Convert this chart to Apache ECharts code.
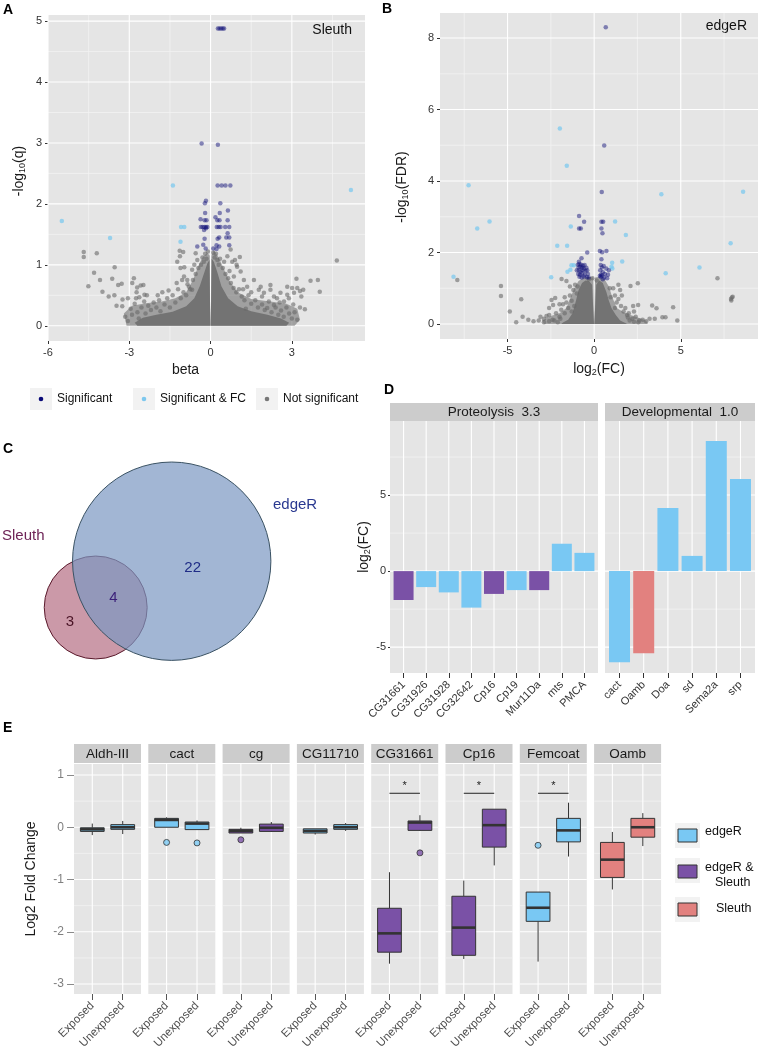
<!DOCTYPE html>
<html>
<head>
<meta charset="utf-8">
<script src="https://cdn.jsdelivr.net/npm/echarts@6.0.0/dist/echarts.min.js"></script>
<style>
html,body{margin:0;padding:0;background:#fff}
#main{width:759px;height:1053px}
</style>
</head>
<body>
<div id="main"></div>
<script>
var FONT = '"Liberation Sans", Arial, sans-serif';

// ---- panel A (Sleuth volcano) ----
var aTicksX = [-6, -3, 0, 3];
var aMinorX = [-4.5, -1.5, 1.5, 4.5];
var aTicksY = [0, 1, 2, 3, 4, 5];
var aMinorY = [0.5, 1.5, 2.5, 3.5, 4.5];
var aSig = [[0.27,4.88],[0.33,4.88],[0.39,4.88],[0.45,4.88],[0.5,4.88],[-0.33,2.99],[0.27,2.97],
  [0.26,2.3],[0.41,2.3],[0.55,2.3],[0.73,2.3],[-0.17,2.05],[-0.21,2.01],[0.36,2.01],
  [-0.2,1.85],[0.64,1.89],[0.34,1.85],[-0.37,1.75],[-0.22,1.73],[-0.15,1.73],[0.18,1.78],[0.25,1.73],[0.33,1.73],[0.63,1.73],
  [-0.36,1.62],[-0.3,1.62],[-0.23,1.62],[-0.17,1.62],[-0.12,1.62],[0.23,1.62],[0.3,1.62],[0.37,1.62],[0.54,1.62],[0.69,1.62],
  [-0.17,1.6],[-0.24,1.57],[0.63,1.52],[-0.22,1.43],[0.26,1.43],[0.32,1.45],[0.58,1.45],[0.69,1.45],
  [-0.49,1.3],[-0.27,1.33],[0.22,1.32],[0.32,1.3],[0.69,1.32],[-0.18,1.27],[0.1,1.27],[0.22,1.26]];
var aSigFC = [[-5.49,1.72],[-3.71,1.44],[-1.39,2.3],[-1.09,1.62],[-0.97,1.62],[-1.11,1.38],[5.18,2.23]];
var aNotSig = [[-4.68,1.21],[-4.68,1.13],[-4.2,1.19],[-3.54,0.96],[-4.3,0.87],[-4.51,0.65],[-4.08,0.75],[-3.63,0.77],
  [-3.99,0.56],[-3.76,0.48],[-3.55,0.5],[-3.41,0.67],[-3.28,0.69],[-3.47,0.33],[-3.26,0.32],[-3.25,0.43],[-3.05,0.45],
  [-2.89,0.7],[-2.83,0.78],[-2.73,0.55],[-2.71,0.63],[-2.63,0.47],[-2.58,0.66],[-2.48,0.67],[-2.44,0.51],[-1.78,0.55],
  [-1.23,1.05],[-1.14,1.23],[-1.01,1.21],[-0.97,0.96],[-1.13,1.14],[-1.11,0.95],[-0.98,0.81],[-0.86,0.75],[-0.68,0.92],
  [-0.8,0.64],[-0.68,0.59],[-0.55,1.19],[-0.49,1.08],[0.74,1.25],[1.08,1.13],[0.96,1.0],[1.11,0.89],[0.9,1.08],[0.62,1.14],
  [0.8,1.05],[0.98,0.97],[0.86,0.81],[1.23,0.75],[1.35,0.64],[1.6,0.75],[1.78,0.59],[1.97,0.54],[1.85,0.64],[2.21,0.67],
  [2.21,0.59],[2.34,0.48],[2.58,0.54],[2.71,0.4],[2.89,0.45],[3.08,0.54],[2.34,0.34],[2.09,0.29],[3.17,0.77],[3.69,0.74],
  [3.96,0.75],[4.03,0.56],[4.66,1.07],[2.83,0.64],[3.35,0.48],[3.42,0.59],[3.48,0.27],[2.83,0.51],[3.01,0.62],[3.2,0.62],[3.3,0.57],
  [-2.95,0.28],[-2.9,0.18],[-2.8,0.36],[-2.7,0.22],[-2.65,0.12],[-2.55,0.3],[-2.45,0.4],[-2.4,0.2],[-2.3,0.33],[-2.2,0.26],
  [-2.1,0.38],[-2.0,0.3],[-1.9,0.42],[-1.85,0.24],[-1.7,0.35],[-1.6,0.45],[-1.5,0.3],[-1.4,0.5],[-1.3,0.38],[-1.2,0.6],
  [-1.1,0.45],[-1.0,0.55],[-0.9,0.5],[-0.85,0.68],[-0.75,0.6],[-0.65,0.75],[-0.55,0.85],[-0.45,0.95],[-0.35,1.0],[-0.3,1.12],
  [-0.25,1.05],[-0.2,1.18],[-0.15,1.1],[-0.1,1.22],[0.1,1.2],[0.15,1.12],[0.2,1.18],[0.25,1.08],[0.3,1.0],[0.35,1.1],
  [0.45,0.95],[0.55,0.85],[0.65,0.78],[0.75,0.7],[0.85,0.62],[0.95,0.55],[1.05,0.6],[1.15,0.48],[1.25,0.42],[1.4,0.5],
  [1.5,0.36],[1.65,0.42],[1.75,0.3],[1.9,0.35],[2.0,0.26],[2.15,0.4],[2.25,0.22],[2.4,0.3],[2.5,0.18],[2.6,0.25],
  [2.7,0.15],[2.8,0.3],[2.9,0.2],[3.0,0.12],[3.1,0.22],[2.55,0.38],[1.3,0.28],
  [-3.15,0.15],[-3.05,0.08],[-2.75,0.45],[-2.35,0.5],[-1.95,0.5],[-1.55,0.58],[-1.25,0.7],[-1.05,0.75],[-0.6,1.0],
  [0.5,1.05],[0.7,0.9],[1.2,0.6],[1.5,0.55],[1.9,0.48],[2.45,0.45],[3.2,0.1],[3.3,0.3],[3.05,0.35]];
// outline of the solid grey mass of points, and of the thinner halo around it
var aCloudLeft = [[-2.7,0],[-2.8,0.05],[-2.5,0.13],[-2.0,0.18],[-1.4,0.23],[-0.9,0.32],[-0.6,0.45],[-0.4,0.65],
  [-0.25,0.85],[-0.12,1.02],[-0.04,1.08],[-0.02,0.4],[-0.005,0]];
var aCloudRight = [[0.005,0],[0.02,0.4],[0.04,1.1],[0.12,1.05],[0.25,0.88],[0.4,0.65],[0.65,0.45],[1.0,0.32],
  [1.5,0.24],[2.1,0.18],[2.6,0.12],[2.9,0.05],[2.8,0]];
var aHaloLeft = [[-3.1,0],[-3.2,0.2],[-2.9,0.33],[-2.4,0.37],[-1.8,0.4],[-1.3,0.45],[-0.9,0.55],[-0.65,0.75],
  [-0.45,0.98],[-0.3,1.12],[-0.12,1.2],[-0.03,1.15],[-0.01,0]];
var aHaloRight = [[0.01,0],[0.03,1.15],[0.12,1.24],[0.3,1.12],[0.5,0.92],[0.72,0.72],[1.0,0.55],[1.5,0.44],
  [2.2,0.4],[2.8,0.36],[3.2,0.28],[3.3,0.1],[3.1,0]];

// ---- panel B (edgeR volcano) ----
var bTicksX = [-5, 0, 5];
var bMinorX = [-7.5, -2.5, 2.5, 7.5];
var bTicksY = [0, 2, 4, 6, 8];
var bMinorY = [1, 3, 5, 7];
var bSig = [[0.67,8.3],[0.58,4.99],[0.44,3.69],[-0.87,3.02],[-0.58,2.86],[-0.87,2.67],[-0.77,2.67],[0.42,2.86],[0.52,2.86],
  [0.42,2.67],[0.48,2.54],[-0.4,2.0],[0.33,2.04],[0.46,2.01],[0.71,2.04],[-0.73,1.84],[-0.88,1.74],
  [-0.94,1.66],[-0.85,1.68],[-0.75,1.66],[-0.65,1.63],[-0.55,1.65],[-0.9,1.58],[-0.8,1.6],[-0.7,1.57],[-0.6,1.55],[-0.45,1.57],
  [-1.0,1.5],[-0.88,1.5],[-0.78,1.47],[-0.66,1.5],[-0.5,1.48],[-0.4,1.5],[-0.92,1.4],[-0.82,1.38],[-0.7,1.42],[-0.55,1.38],
  [-0.36,1.4],[-0.85,1.32],[-0.72,1.3],[-0.6,1.33],[-0.42,1.31],[-0.32,1.3],
  [0.42,1.81],[0.38,1.65],[0.45,1.58],[0.55,1.62],[0.7,1.55],[0.85,1.5],[0.35,1.5],[0.5,1.45],[0.62,1.4],[0.8,1.38],
  [0.4,1.38],[0.33,1.35],[0.38,1.32],[0.45,1.35],[0.58,1.3],[0.75,1.28],[0.5,1.25]];
var bSigFC = [[-1.98,5.47],[-1.58,4.43],[-7.25,3.88],[3.88,3.63],[8.6,3.7],[-6.04,2.87],[-6.75,2.67],[-1.35,2.73],[1.21,2.87],
  [1.83,2.49],[-2.13,2.19],[-1.56,2.19],[7.88,2.26],[1.62,1.75],[1.04,1.71],[1.0,1.6],[-1.31,1.64],[-1.17,1.64],[-2.48,1.31],
  [-8.12,1.32],[6.08,1.58],[4.13,1.42],[-1.37,1.52],[-1.54,1.46],[1.05,1.55]];
var bNotSig = [[-7.9,1.23],[7.12,1.28],[7.9,0.7],[7.95,0.74],[8.0,0.76],[7.92,0.66],[-5.38,1.06],[-5.38,0.78],[-4.21,0.69],
  [-4.87,0.35],[-4.13,0.2],[-3.1,0.2],[-2.75,0.22],[-2.25,0.73],[-2.37,0.53],[-2.46,0.67],[-1.88,1.26],[2.1,1.06],[2.52,1.14],
  [2.25,0.5],[2.54,0.53],[3.35,0.52],[3.6,0.44],[4.56,0.47],[3.94,0.19],[4.12,0.19],[-1.6,1.2],[-1.4,1.05],[1.4,1.1],[1.5,0.95],
  [-3.2,0.1],[-2.9,0.15],[-2.6,0.25],[-2.4,0.12],[-2.2,0.3],[-2.0,0.2],[-1.9,0.4],[-1.8,0.55],[-1.7,0.3],[-1.6,0.6],
  [-1.5,0.45],[-1.4,0.8],[-1.3,0.65],[-1.2,0.95],[-1.15,0.5],[-1.1,1.1],[1.1,1.0],[1.2,0.8],[1.3,0.6],[1.4,0.7],[1.55,0.5],
  [1.7,0.35],[1.8,0.45],[1.9,0.25],[2.0,0.3],[2.2,0.15],[2.4,0.2],[2.6,0.1],[2.8,0.12],[3.0,0.08],[-3.5,0.08],[3.2,0.15],
  [-0.3,1.25],[-0.1,1.28],[0.15,1.22],
  [-2.9,0.05],[-2.6,0.08],[-2.3,0.1],[-2.1,0.05],[-1.95,0.15],[2.05,0.1],[2.3,0.06],[2.55,0.05],[1.95,0.18],[-1.3,0.35],
  [-1.0,0.85],[1.2,0.45],[0.95,0.75],[-0.95,1.05],[0.9,1.0],[-1.7,0.75],[1.6,0.8],[-2.0,0.55],[2.3,0.35],[-2.6,0.45],
  [3.5,0.15],[-3.8,0.12],[4.8,0.1],[-4.5,0.05]];
var bCloudLeft = [[-1.9,0],[-1.8,0.04],[-1.5,0.12],[-1.25,0.3],[-1.05,0.65],[-0.9,0.95],[-0.7,1.15],[-0.5,1.22],
  [-0.3,1.2],[-0.12,1.1],[-0.02,0.1],[-0.01,0]];
var bCloudRight = [[0.01,0],[0.02,0.1],[0.12,1.1],[0.3,1.22],[0.5,1.15],[0.7,0.9],[0.85,0.65],[1.0,0.45],[1.25,0.25],
  [1.5,0.1],[1.8,0.03],[1.9,0]];
var bHaloLeft = [[-2.9,0],[-3.0,0.1],[-2.5,0.22],[-2.0,0.3],[-1.6,0.45],[-1.35,0.75],[-1.15,1.0],[-0.9,1.2],[-0.6,1.3],
  [-0.3,1.32],[-0.05,1.3],[-0.01,0]];
var bHaloRight = [[0.01,0],[0.05,1.3],[0.3,1.32],[0.6,1.25],[0.85,1.05],[1.05,0.75],[1.3,0.45],[1.8,0.3],[2.4,0.2],
  [3.0,0.1],[3.1,0]];

// ---- panel C (Venn) ----
var vennNames = ['Sleuth', 'edgeR'];
var vennTotals = [7, 26];
var vennCounts = [3, 4, 22];   // Sleuth only, both, edgeR only

// ---- panel D (GO bars) ----
var dProtGenes = ['CG31661','CG31926','CG31928','CG32642','Cp16','Cp19','Mur11Da','mts','PMCA'];
var dProtFC = [-1.9, -1.05, -1.4, -2.4, -1.5, -1.25, -1.25, 1.8, 1.2];
var dProtGroup = ['both','edgeR','edgeR','edgeR','both','edgeR','both','edgeR','edgeR'];
var dDevGenes = ['cact','Oamb','Doa','sd','Sema2a','srp'];
var dDevFC = [-6.0, -5.4, 4.15, 1.0, 8.55, 6.05];
var dDevGroup = ['edgeR','Sleuth','edgeR','edgeR','edgeR','edgeR'];
var dTicksY = [-5, 0, 5];
var dMinorY = [-2.5, 2.5, 7.5];

// ---- panel E (box plots) ----
var eGenes = ['Aldh-III','cact','cg','CG11710','CG31661','Cp16','Femcoat','Oamb'];
var eGroup = ['edgeR','edgeR','both','edgeR','both','both','edgeR','Sleuth'];
var eConds = ['Exposed', 'Unexposed'];
// [min, q1, median, q3, max]
var eExposed = [[-0.15,-0.08,-0.04,-0.01,0.07],[0.0,0.0,0.14,0.17,0.19],[-0.11,-0.11,-0.07,-0.04,-0.01],[-0.14,-0.11,-0.07,-0.03,-0.03],
  [-2.61,-2.39,-2.03,-1.55,-0.86],[-2.52,-2.45,-1.92,-1.32,-1.02],[-2.57,-1.8,-1.54,-1.24,-1.24],[-1.19,-0.96,-0.62,-0.29,-0.09]];
var eUnexposed = [[-0.13,-0.04,0.0,0.05,0.12],[-0.045,-0.045,0.07,0.1,0.13],[-0.09,-0.08,-0.01,0.06,0.1],[-0.07,-0.04,0.0,0.05,0.08],
  [-0.07,-0.06,0.09,0.12,0.23],[-0.73,-0.38,0.04,0.345,0.345],[-0.56,-0.28,-0.06,0.17,0.47],[-0.36,-0.19,0.0,0.17,0.27]];
// [gene index, condition (1 or 2), value]
var eOutliers = [[1,1,-0.29],[1,2,-0.3],[2,1,-0.24],[4,2,-0.49],[6,1,-0.345]];
var eSigGenes = [4, 5, 6];
var eSigY = 0.65;
var eTicksY = [-3, -2, -1, 0, 1];
var eMinorY = [-2.5, -1.5, -0.5, 0.5];

var groupColor = {edgeR: '#79c8f3', both: '#7a51a6', Sleuth: '#e2817f'};

// ---------------------------------------------------------------
function gridLines(idx, xMaj, xMin, yMaj, yMin, xr, yr) {
    return {
        type: 'custom', xAxisIndex: idx, yAxisIndex: idx, silent: true, z: 1,
        data: [[xr[0], yr[0]]],
        renderItem: function (params, api) {
            var ch = [];
            function vl(v, col, w) {
                var a = api.coord([v, yr[0]]), b = api.coord([v, yr[1]]);
                ch.push({type: 'line', shape: {x1: a[0], y1: a[1], x2: b[0], y2: b[1]}, style: {stroke: col, lineWidth: w}});
            }
            function hl(v, col, w) {
                var a = api.coord([xr[0], v]), b = api.coord([xr[1], v]);
                ch.push({type: 'line', shape: {x1: a[0], y1: a[1], x2: b[0], y2: b[1]}, style: {stroke: col, lineWidth: w}});
            }
            xMin.forEach(function (v) { vl(v, '#f2f2f2', 0.8); });
            yMin.forEach(function (v) { hl(v, '#f2f2f2', 0.8); });
            xMaj.forEach(function (v) { vl(v, '#ffffff', 1.1); });
            yMaj.forEach(function (v) { hl(v, '#ffffff', 1.1); });
            return {type: 'group', children: ch};
        }
    };
}

function cloud(idx, poly, color) {
    return {
        type: 'custom', xAxisIndex: idx, yAxisIndex: idx, silent: true, z: 2,
        data: [poly[0]],
        renderItem: function (params, api) {
            return {type: 'polygon', shape: {points: poly.map(function (p) { return api.coord(p); })},
                style: {fill: color}};
        }
    };
}

function pts(idx, data, color) {
    return {type: 'scatter', xAxisIndex: idx, yAxisIndex: idx, data: data, symbolSize: 4.5,
        itemStyle: {color: color}, silent: true, z: 3};
}

function valAxis(gi, min, max, ticks, o) {
    o = o || {};
    var a = {
        type: 'value', gridIndex: gi, min: min, max: max,
        axisLine: {show: false, onZero: false}, splitLine: {show: false},
        axisTick: {show: o.tickShow !== false, length: o.tickLen || 3, customValues: ticks,
            lineStyle: {color: o.tickColor || '#333'}},
        axisLabel: {show: o.labelShow !== false, customValues: ticks, color: o.labelColor || '#333',
            fontSize: o.fontSize || 11, fontFamily: FONT, margin: o.margin || 6,
            rotate: o.rotate || 0, formatter: o.formatter}
    };
    if (o.name) {
        a.name = o.name;
        a.nameLocation = 'middle';
        a.nameGap = o.nameGap;
        a.nameRotate = o.nameRotate || 0;
        a.nameTextStyle = {fontSize: o.nameSize || 14, color: '#1a1a1a', fontFamily: FONT,
            padding: o.namePad || 0, rich: {sub: {fontSize: 9, fontFamily: FONT, color: '#1a1a1a', padding: [7, 0, 0, 0]}}};
    }
    return a;
}

var grids = [], xAxes = [], yAxes = [], series = [], graphics = [];
var GREY_PT = 'rgba(105,105,105,0.75)', HALO = 'rgba(118,118,118,0.62)', CORE = '#737373';
var SIGFC_PT = 'rgba(120,200,238,0.9)', SIG_PT = 'rgba(15,15,120,0.6)';

// A
grids.push({left: 48, top: 15, width: 317, height: 326});
xAxes.push(valAxis(0, -6, 5.7, aTicksX, {name: 'beta', nameGap: 22, namePad: [0, 42, 0, 0]}));
yAxes.push(valAxis(0, -0.25, 5.1, aTicksY, {name: '-log{sub|10}(q)', nameGap: 21, nameRotate: 90, namePad: [0, 0, 0, 14]}));
series.push(gridLines(0, aTicksX, aMinorX, aTicksY, aMinorY, [-6, 5.7], [-0.25, 5.1]));
series.push(cloud(0, aHaloLeft, HALO), cloud(0, aHaloRight, HALO));
series.push(cloud(0, aCloudLeft, CORE), cloud(0, aCloudRight, CORE));
series.push(pts(0, aNotSig, GREY_PT));
series.push(pts(0, aSigFC, SIGFC_PT));
series.push(pts(0, aSig, SIG_PT));

// B
grids.push({left: 440, top: 13, width: 318, height: 326});
xAxes.push(valAxis(1, -8.9, 9.46, bTicksX, {name: 'log{sub|2}(FC)', nameGap: 22}));
yAxes.push(valAxis(1, -0.42, 8.7, bTicksY, {name: '-log{sub|10}(FDR)', nameGap: 30, nameRotate: 90, namePad: [0, 22, 0, 0]}));
series.push(gridLines(1, bTicksX, bMinorX, bTicksY, bMinorY, [-8.9, 9.46], [-0.42, 8.7]));
series.push(cloud(1, bHaloLeft, HALO), cloud(1, bHaloRight, HALO));
series.push(cloud(1, bCloudLeft, CORE), cloud(1, bCloudRight, CORE));
series.push(pts(1, bNotSig, GREY_PT));
series.push(pts(1, bSigFC, SIGFC_PT));
series.push(pts(1, bSig, SIG_PT));

// C  (grid units = pixels, y downwards)
grids.push({left: 0, top: 440, width: 370, height: 240});
xAxes.push({type: 'value', gridIndex: 2, min: 0, max: 370, show: false});
yAxes.push({type: 'value', gridIndex: 2, min: 0, max: 240, inverse: true, show: false});
var vennCenter = [[95.7, 167.5], [171.7, 121.2]];
var vennScale = 19.45;
var vennFill = ['rgba(160,70,96,0.55)', 'rgba(122,151,194,0.7)'];
var vennStroke = ['#5a1a2c', '#3a5263'];
var vennCountPos = [[70, 181.7], [113.3, 158.3], [192.7, 128.3]];
var vennCountColor = ['#4a1426', '#3b1f7a', '#1f2c86'];
var vennNamePos = [[2, 96], [273, 65]];
var vennNameColor = ['#6e2457', '#2a3990'];
series.push({
    type: 'custom', xAxisIndex: 2, yAxisIndex: 2, silent: true, z: 3,
    data: vennNames.map(function (n, i) { return vennCenter[i]; }),
    renderItem: function (params, api) {
        var i = params.dataIndex;
        var c = api.coord(vennCenter[i]);
        var r = api.size([vennScale * Math.sqrt(vennTotals[i]), 0])[0];
        var np = api.coord(vennNamePos[i]);
        return {type: 'group', children: [
            {type: 'circle', shape: {cx: c[0], cy: c[1], r: r}, style: {fill: vennFill[i], stroke: vennStroke[i], lineWidth: 1}},
            {type: 'text', style: {x: np[0], y: np[1], text: vennNames[i], fill: vennNameColor[i],
                font: '15px ' + FONT, align: 'left', verticalAlign: 'middle'}}
        ]};
    }
});
series.push({
    type: 'custom', xAxisIndex: 2, yAxisIndex: 2, silent: true, z: 4,
    data: vennCounts.map(function (v, i) { return vennCountPos[i]; }),
    renderItem: function (params, api) {
        var i = params.dataIndex;
        var p = api.coord(vennCountPos[i]);
        return {type: 'text', style: {x: p[0], y: p[1], text: String(vennCounts[i]), fill: vennCountColor[i],
            font: '15px ' + FONT, align: 'center', verticalAlign: 'middle'}};
    }
});

// D
function dIdx(arr) { return arr.map(function (g, i) { return i + 1; }); }
grids.push({left: 390, top: 421, width: 208, height: 252});
grids.push({left: 605, top: 421, width: 150, height: 252});
xAxes.push(valAxis(3, 0.4, dProtGenes.length + 0.6, dIdx(dProtGenes), {rotate: 45, fontSize: 11, margin: 10, tickLen: 5,
    formatter: function (v) { return dProtGenes[Math.round(v) - 1] || ''; }}));
xAxes.push(valAxis(4, 0.4, dDevGenes.length + 0.6, dIdx(dDevGenes), {rotate: 45, fontSize: 11, margin: 10, tickLen: 5,
    formatter: function (v) { return dDevGenes[Math.round(v) - 1] || ''; }}));
yAxes.push(valAxis(3, -6.7, 9.87, dTicksY, {name: 'log{sub|2}(FC)', nameGap: 18, nameRotate: 90, tickLen: 2, margin: 4}));
yAxes.push(valAxis(4, -6.7, 9.87, dTicksY, {labelShow: false, tickShow: false}));
series.push(gridLines(3, dIdx(dProtGenes), [], dTicksY, dMinorY, [0.4, dProtGenes.length + 0.6], [-6.7, 9.87]));
series.push(gridLines(4, dIdx(dDevGenes), [], dTicksY, dMinorY, [0.4, dDevGenes.length + 0.6], [-6.7, 9.87]));
series.push({type: 'bar', xAxisIndex: 3, yAxisIndex: 3, barWidth: 20, silent: true, z: 3,
    data: dProtFC.map(function (v, i) { return {value: [i + 1, v], itemStyle: {color: groupColor[dProtGroup[i]]}}; })});
series.push({type: 'bar', xAxisIndex: 4, yAxisIndex: 4, barWidth: 21, silent: true, z: 3,
    data: dDevFC.map(function (v, i) { return {value: [i + 1, v], itemStyle: {color: groupColor[dDevGroup[i]]}}; })});
graphics.push({type: 'rect', shape: {x: 390, y: 403, width: 208, height: 18}, style: {fill: '#cccccc'}});
graphics.push({type: 'text', style: {x: 494, y: 412.5, text: 'Proteolysis  3.3', fill: '#1a1a1a', font: '13.5px ' + FONT, align: 'center', verticalAlign: 'middle'}});
graphics.push({type: 'rect', shape: {x: 605, y: 403, width: 150, height: 18}, style: {fill: '#cccccc'}});
graphics.push({type: 'text', style: {x: 680, y: 412.5, text: 'Developmental  1.0', fill: '#1a1a1a', font: '13.5px ' + FONT, align: 'center', verticalAlign: 'middle'}});

// E
function boxRender(color) {
    return function (params, api) {
        var x = api.value(0);
        var w = api.size([0.78, 0])[0];
        var p = [1, 2, 3, 4, 5].map(function (k) { return api.coord([x, api.value(k)]); });
        var st = {stroke: '#333333', lineWidth: 1};
        return {type: 'group', children: [
            {type: 'line', shape: {x1: p[0][0], y1: p[0][1], x2: p[1][0], y2: p[1][1]}, style: st},
            {type: 'line', shape: {x1: p[3][0], y1: p[3][1], x2: p[4][0], y2: p[4][1]}, style: st},
            {type: 'rect', shape: {x: p[3][0] - w / 2, y: p[3][1], width: w, height: Math.max(p[1][1] - p[3][1], 0.5)},
                style: {fill: color, stroke: '#333333', lineWidth: 1}},
            {type: 'line', shape: {x1: p[2][0] - w / 2, y1: p[2][1], x2: p[2][0] + w / 2, y2: p[2][1]},
                style: {stroke: '#333333', lineWidth: 2.6}}
        ]};
    };
}
eGenes.forEach(function (g, i) {
    var gi = 5 + i;
    var left = 74 + i * 74.3;
    var col = groupColor[eGroup[i]];
    grids.push({left: left, top: 764, width: 67, height: 230});
    xAxes.push(valAxis(gi, 0.4, 2.6, [1, 2], {rotate: 45, fontSize: 11.5, margin: 10, tickLen: 6, tickColor: '#555',
        labelColor: '#4d4d4d', formatter: function (v) { return eConds[Math.round(v) - 1] || ''; }}));
    var yo = {labelShow: i === 0, tickShow: i === 0, tickLen: 7, tickColor: '#8a8a8a', labelColor: '#7f7f7f',
        fontSize: 12, margin: 10};
    if (i === 0) { yo.name = 'Log2 Fold Change'; yo.nameGap = 36; yo.nameRotate = 90; }
    yAxes.push(valAxis(gi, -3.19, 1.21, eTicksY, yo));
    series.push(gridLines(gi, [1, 2], [], eTicksY, eMinorY, [0.4, 2.6], [-3.19, 1.21]));
    series.push({type: 'custom', xAxisIndex: gi, yAxisIndex: gi, silent: true, z: 3,
        encode: {x: 0, y: [1, 2, 3, 4, 5]},
        data: [[1].concat(eExposed[i]), [2].concat(eUnexposed[i])],
        renderItem: boxRender(col)});
    var outs = eOutliers.filter(function (o) { return o[0] === i; }).map(function (o) { return [o[1], o[2]]; });
    if (outs.length) {
        series.push({type: 'scatter', xAxisIndex: gi, yAxisIndex: gi, data: outs, symbolSize: 6, silent: true, z: 4,
            itemStyle: {color: col, borderColor: '#333333', borderWidth: 1}});
    }
    if (eSigGenes.indexOf(i) >= 0) {
        series.push({type: 'custom', xAxisIndex: gi, yAxisIndex: gi, silent: true, z: 4,
            data: [[1.5, eSigY]],
            renderItem: function (params, api) {
                var a = api.coord([1, eSigY]), b = api.coord([2, eSigY]), m = api.coord([1.5, eSigY]);
                return {type: 'group', children: [
                    {type: 'line', shape: {x1: a[0], y1: a[1], x2: b[0], y2: b[1]}, style: {stroke: '#222', lineWidth: 1}},
                    {type: 'text', style: {x: m[0], y: m[1] - 2, text: '*', fill: '#222', font: '11px ' + FONT,
                        align: 'center', verticalAlign: 'bottom'}}
                ]};
            }});
    }
    graphics.push({type: 'rect', shape: {x: left, y: 744, width: 67, height: 19}, style: {fill: '#cccccc'}});
    graphics.push({type: 'text', style: {x: left + 33.5, y: 754, text: g, fill: '#1a1a1a', font: '13.5px ' + FONT,
        align: 'center', verticalAlign: 'middle'}});
});

// panel letters and labels
[['A', 3, 10], ['B', 382, 9], ['C', 3, 449], ['D', 384, 390], ['E', 3, 728]].forEach(function (l) {
    graphics.push({type: 'text', style: {x: l[1], y: l[2], text: l[0], fill: '#000', font: 'bold 14px ' + FONT,
        align: 'left', verticalAlign: 'middle'}});
});
graphics.push({type: 'text', style: {x: 352, y: 30, text: 'Sleuth', fill: '#111', font: '14px ' + FONT, align: 'right', verticalAlign: 'middle'}});
graphics.push({type: 'text', style: {x: 747, y: 26, text: 'edgeR', fill: '#111', font: '14px ' + FONT, align: 'right', verticalAlign: 'middle'}});

// volcano legend
[[30, 'Significant', '#0a0a78'], [133, 'Significant & FC', '#7ec8ee'], [256, 'Not significant', '#777777']].forEach(function (k) {
    graphics.push({type: 'rect', shape: {x: k[0], y: 388, width: 22, height: 22}, style: {fill: '#f2f2f2'}});
    graphics.push({type: 'circle', shape: {cx: k[0] + 11, cy: 399, r: 2.3}, style: {fill: k[2]}});
    graphics.push({type: 'text', style: {x: k[0] + 27, y: 399, text: k[1], fill: '#111', font: '12px ' + FONT,
        align: 'left', verticalAlign: 'middle'}});
});

// box plot legend
[[823, 829, 'edgeR'], [858, 865, 'both'], [897, 903, 'Sleuth']].forEach(function (k) {
    graphics.push({type: 'rect', shape: {x: 675, y: k[0], width: 25, height: 25}, style: {fill: '#f2f2f2'}});
    graphics.push({type: 'rect', shape: {x: 678, y: k[1], width: 19, height: 13},
        style: {fill: groupColor[k[2]], stroke: '#333333', lineWidth: 1}});
});
graphics.push({type: 'text', style: {x: 705, y: 832, text: 'edgeR', fill: '#111', font: '12.5px ' + FONT, align: 'left', verticalAlign: 'middle'}});
graphics.push({type: 'text', style: {x: 705, y: 868, text: 'edgeR &', fill: '#111', font: '12.5px ' + FONT, align: 'left', verticalAlign: 'middle'}});
graphics.push({type: 'text', style: {x: 715, y: 883, text: 'Sleuth', fill: '#111', font: '12.5px ' + FONT, align: 'left', verticalAlign: 'middle'}});
graphics.push({type: 'text', style: {x: 716, y: 909, text: 'Sleuth', fill: '#111', font: '12.5px ' + FONT, align: 'left', verticalAlign: 'middle'}});

grids.forEach(function (g, i) {
    g.show = i !== 2;
    g.backgroundColor = '#e5e5e5';
    g.borderWidth = 0;
    g.containLabel = false;
});

var chart = echarts.init(document.getElementById('main'));
chart.setOption({
    animation: false,
    backgroundColor: '#ffffff',
    textStyle: {fontFamily: FONT},
    grid: grids,
    xAxis: xAxes,
    yAxis: yAxes,
    series: series,
    graphic: {elements: graphics}
});
</script>
</body>
</html>
